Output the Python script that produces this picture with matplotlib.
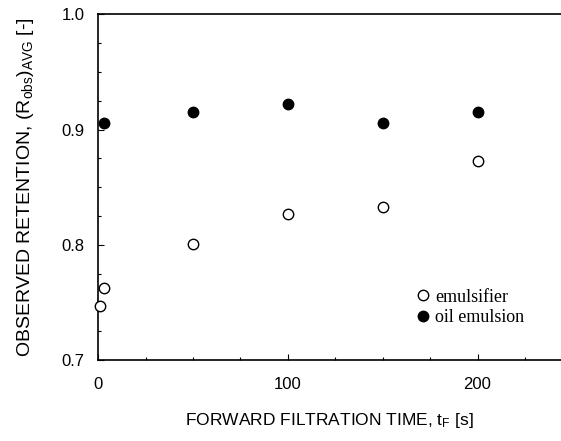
import matplotlib
matplotlib.use("Agg")
import matplotlib.pyplot as plt
from matplotlib.ticker import MultipleLocator

plt.rcParams["font.family"] = ["Liberation Sans", "DejaVu Sans"]
plt.rcParams["mathtext.default"] = "regular"

# Data
t_emulsifier = [1, 3, 50, 100, 150, 200]
r_emulsifier = [0.747, 0.763, 0.801, 0.827, 0.833, 0.873]

t_oil = [3, 50, 100, 150, 200]
r_oil = [0.906, 0.915, 0.922, 0.906, 0.915]

x_ticks = [0, 100, 200]
y_ticks = [0.7, 0.8, 0.9, 1.0]

fig = plt.figure(figsize=(5.61, 4.41), dpi=100)
ax = fig.add_axes([0.175, 0.183, 0.825, 0.785])

ax.plot(t_emulsifier, r_emulsifier, linestyle="none", marker="o",
        markersize=7.5, markerfacecolor="white", markeredgecolor="black",
        markeredgewidth=1.0, label="emulsifier", clip_on=False, zorder=3)
ax.plot(t_oil, r_oil, linestyle="none", marker="o",
        markersize=7.5, markerfacecolor="black", markeredgecolor="black",
        label="oil emulsion", clip_on=False, zorder=3)

ax.set_xlim(0, 244)
ax.set_ylim(0.7, 1.0)
ax.set_xticks(x_ticks)
ax.set_yticks(y_ticks)
ax.set_yticklabels([f"{v:.1f}" for v in y_ticks])
ax.xaxis.set_minor_locator(MultipleLocator(25))
ax.yaxis.set_minor_locator(MultipleLocator(0.025))

ax.tick_params(which="both", direction="in", labelsize=12, width=0.8)
ax.tick_params(which="major", length=4, pad=12)
ax.tick_params(which="minor", length=2)
ax.tick_params(axis="y", pad=10)

ax.spines["right"].set_visible(False)
for s in ["left", "bottom", "top"]:
    ax.spines[s].set_linewidth(1.2)

ax.set_xlabel("FORWARD FILTRATION TIME, t$_F$ [s]", fontsize=12.5, labelpad=14)
ax.set_ylabel("OBSERVED RETENTION, (R$_{obs}$)$_{AVG}$ [-]", fontsize=14,
              labelpad=18)

ax.legend(loc="center left", bbox_to_anchor=(0.682, 0.153), frameon=False,
          prop={"family": "Liberation Serif", "size": 13},
          handletextpad=0.2, labelspacing=0.2, borderaxespad=0,
          borderpad=0, handlelength=1.0)

plt.savefig("out.png", dpi=100)
